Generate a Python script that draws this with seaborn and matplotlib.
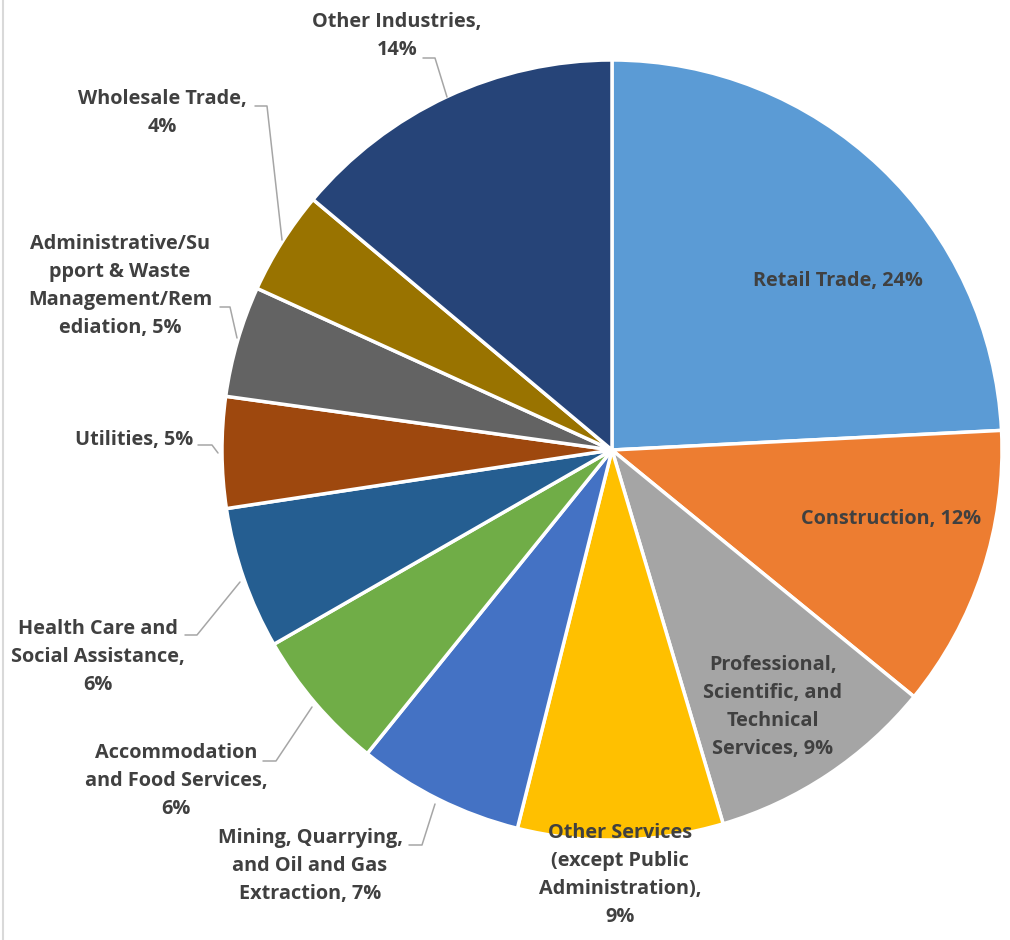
import matplotlib
matplotlib.use("Agg")
import matplotlib.pyplot as plt
import seaborn as sns

# slice data, clockwise from 12 o'clock
industries = ["Retail Trade", "Construction",
              "Professional, Scientific, and Technical Services",
              "Other Services (except Public Administration)",
              "Mining, Quarrying, and Oil and Gas Extraction",
              "Accommodation and Food Services",
              "Health Care and Social Assistance", "Utilities",
              "Administrative/Support & Waste Management/Remediation",
              "Wholesale Trade", "Other Industries"]
shares = [24.2, 11.7, 9.5, 8.5, 6.9, 5.9, 5.9, 4.6, 4.6, 4.3, 13.9]
label_texts = ["Retail Trade, 24%",
               "Construction, 12%",
               "Professional,\nScientific, and\nTechnical\nServices, 9%",
               "Other Services\n(except Public\nAdministration),\n9%",
               "Mining, Quarrying,\nand Oil and Gas\nExtraction, 7%",
               "Accommodation\nand Food Services,\n6%",
               "Health Care and\nSocial Assistance,\n6%",
               "Utilities, 5%",
               "Administrative/Su\npport & Waste\nManagement/Rem\nediation, 5%",
               "Wholesale Trade,\n4%",
               "Other Industries,\n14%"]
slice_colors = ["#5B9BD5", "#ED7D31", "#A5A5A5", "#FFC000", "#4472C4", "#70AD47",
                "#255E91", "#9E480E", "#636363", "#997300", "#264478"]

# label placement in pixels (centre of text block) and leader lines
label_px = [(838, 281), (891, 519), (773, 707), (620, 875), (310, 866),
            (176, 781), (98, 657), (134, 440), (120, 286), (162, 113), (397, 36)]
leaders_px = {
    4: [(409, 845), (422, 845), (435, 804)],
    5: [(263, 761), (276, 761), (312, 707)],
    6: [(185, 635), (197, 635), (240, 582)],
    7: [(198, 445), (212, 445), (218, 453)],
    8: [(220, 307), (230, 307), (237, 338)],
    9: [(255, 106), (267, 106), (282, 240)],
    10: [(423, 58), (435, 58), (447, 97)],
}

W, H = 1010, 940
CX, CY, R = 612, 450, 390


def to_data(px, py):
    return (px - CX) / R, (CY - py) / R


sns.set_theme(style="white")
plt.rcParams["font.family"] = ["Open Sans", "DejaVu Sans"]

fig = plt.figure(figsize=(W / 100, H / 100), dpi=100)
ax = fig.add_axes([0, 0, 1, 1])
ax.pie(shares, colors=slice_colors, startangle=90, counterclock=False,
       radius=1, wedgeprops=dict(edgecolor="white", linewidth=2.5))
ax.set_xlim(-CX / R, (W - CX) / R)
ax.set_ylim(-(H - CY) / R, CY / R)
ax.set_aspect("equal")
ax.axis("off")

for i, txt in enumerate(label_texts):
    x, y = to_data(*label_px[i])
    ax.text(x, y, txt, ha="center", va="center", multialignment="center",
            fontsize=14.3, fontweight="bold", color="#404040", linespacing=1.55)

for i, pts in leaders_px.items():
    xs, ys = zip(*[to_data(px, py) for px, py in pts])
    ax.plot(xs, ys, color="#A6A6A6", linewidth=1.1)

# thin chart border on the left edge
fig.add_artist(plt.Line2D([3 / W, 3 / W], [0, 1], color="#D9D9D9", linewidth=1.5))

fig.savefig("out.png", dpi=100, facecolor="white")
